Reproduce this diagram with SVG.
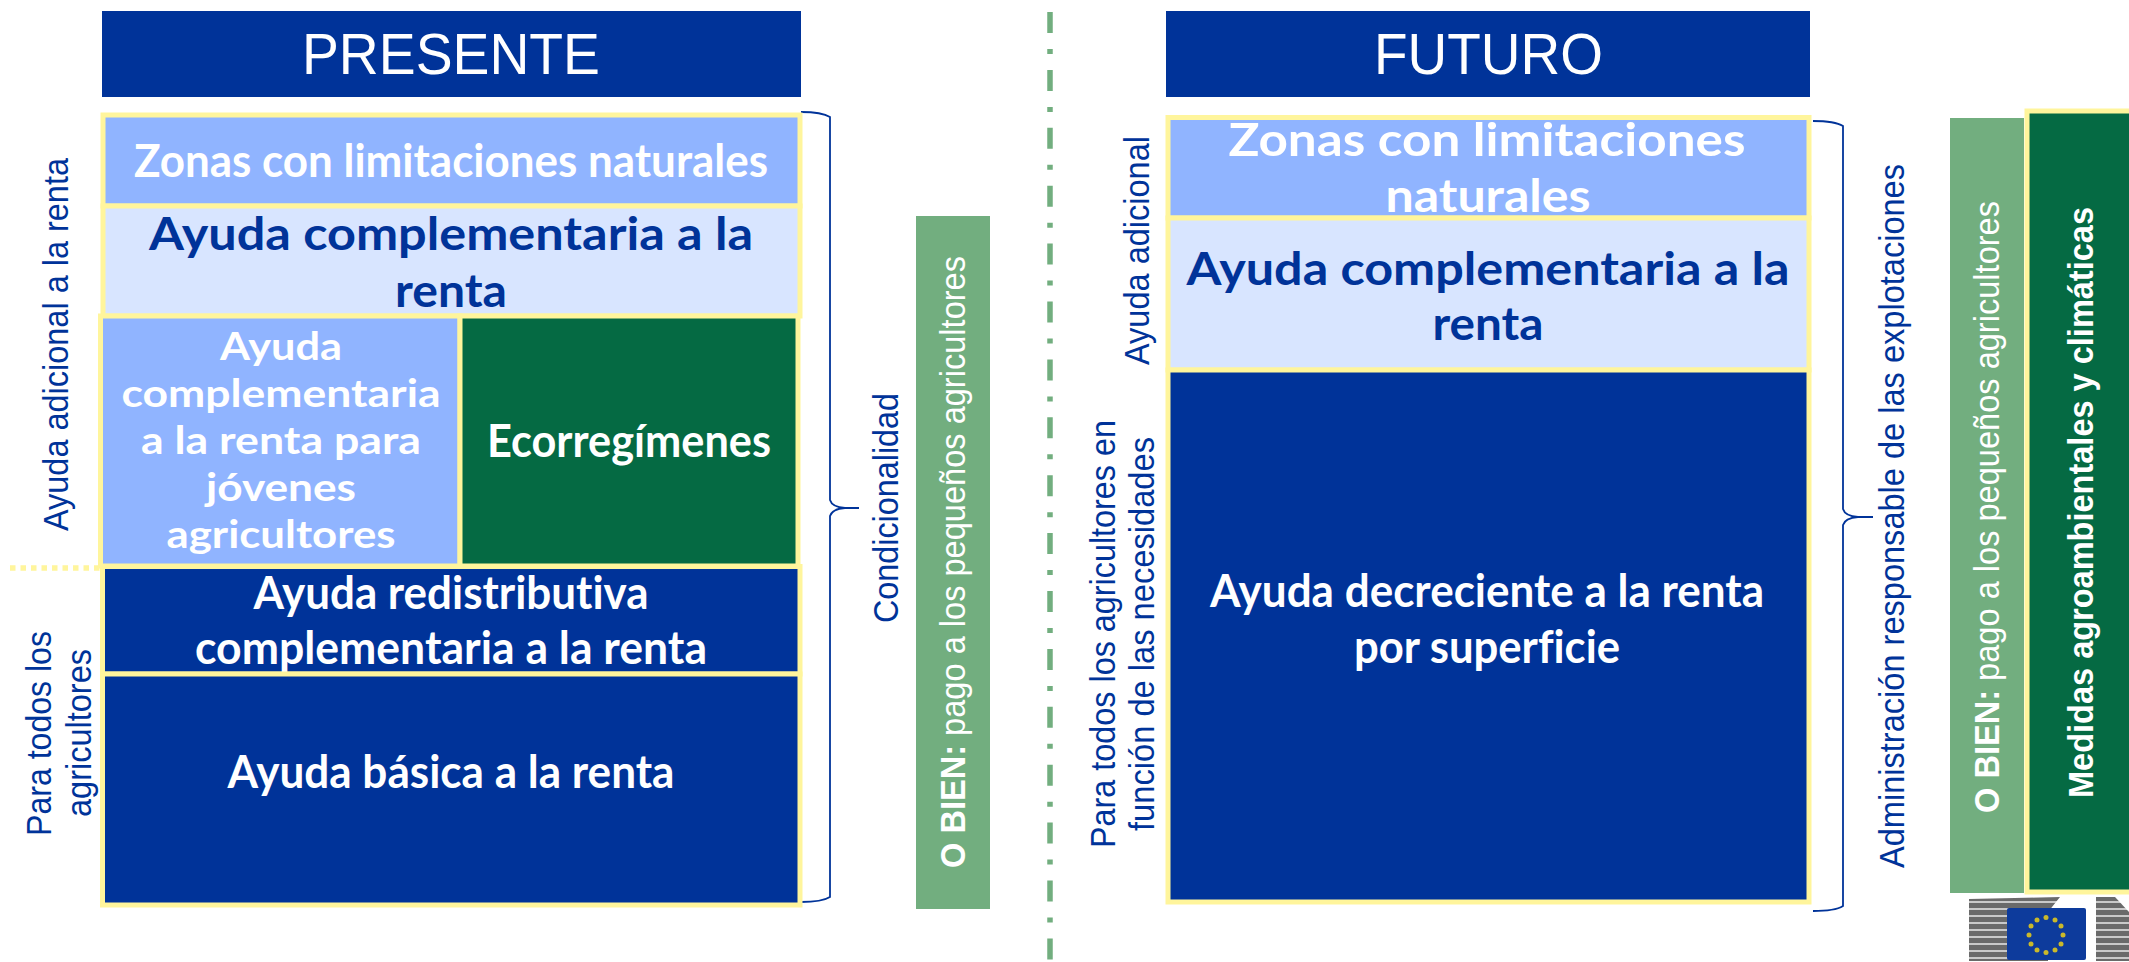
<svg xmlns="http://www.w3.org/2000/svg" width="2129" height="962" viewBox="0 0 2129 962">
<style>
.b{stroke:#fff59c;stroke-width:5}
.blue{fill:#003399}.lb{fill:#90b4ff}.pb{fill:#d8e5ff}.dg{fill:#056a43}.lg{fill:#72ae7f}
.t{font-family:Lato,"Liberation Sans",sans-serif;font-weight:700;font-size:45px;text-anchor:middle;font-variant-ligatures:none}
.s{font-size:39px}
.a{font-family:"Liberation Sans",Arial,sans-serif}
.r{font-size:35px}
.w{fill:#fff}.n{fill:#003399}
.h{font-size:58px;fill:#fff}
.c{fill:none;stroke:#003399;stroke-width:1.8}
</style>
<defs>
<pattern id="st" width="6" height="7" patternUnits="userSpaceOnUse">
<rect width="6" height="7" fill="#6b6b6b"/><rect y="5" width="6" height="2" fill="#c9c9c9"/>
</pattern>
<filter id="soft" x="-5%" y="-5%" width="110%" height="110%"><feGaussianBlur stdDeviation="0.7"/></filter>
</defs>
<g id="divider"><line x1="1050" y1="12" x2="1050" y2="960" stroke="#72ae7f" stroke-width="5.500" stroke-dasharray="21 16 5 15.900"/></g>
<g id="connectors">
<path class="c" d="M801 112Q822 112 830 117V500Q832 507 845 508H859H845Q832 509 830 516V897Q822 902 801 902"/>
<path class="c" d="M1813 121Q1835 121 1843 126V509Q1845 516 1858 517H1873H1858Q1845 518 1843 525V906Q1835 911 1813 911"/>
<line x1="10" y1="568" x2="101" y2="568" stroke="#fff59c" stroke-width="5.500" stroke-dasharray="5.500 5"/>
</g>
<g id="presente-header"><rect class="blue" x="102" y="11" width="699" height="86"/><text class="a h" x="302" y="74" textLength="298" lengthAdjust="spacingAndGlyphs">PRESENTE</text></g>
<g id="p-zonas"><rect class="lb b" x="103" y="115" width="697" height="91"/><text class="t w" x="451" y="177" textLength="634" lengthAdjust="spacingAndGlyphs">Zonas con limitaciones naturales</text></g>
<g id="p-complementaria"><rect class="pb b" x="103" y="206" width="697" height="110"/><text class="t n" x="451" y="250" textLength="604" lengthAdjust="spacingAndGlyphs">Ayuda complementaria a la</text><text class="t n" x="451" y="307" textLength="112" lengthAdjust="spacingAndGlyphs">renta</text></g>
<g id="p-jovenes"><rect class="lb b" x="100.500" y="316" width="359.500" height="250"/>
<text class="t s w" x="281" y="360" textLength="122" lengthAdjust="spacingAndGlyphs">Ayuda</text><text class="t s w" x="281" y="407" textLength="319" lengthAdjust="spacingAndGlyphs">complementaria</text><text class="t s w" x="281" y="454" textLength="280" lengthAdjust="spacingAndGlyphs">a la renta para</text><text class="t s w" x="281" y="501" textLength="150" lengthAdjust="spacingAndGlyphs">jóvenes</text><text class="t s w" x="281" y="548" textLength="229" lengthAdjust="spacingAndGlyphs">agricultores</text></g>
<g id="p-eco"><rect class="dg b" x="460" y="316" width="338" height="250"/><text class="t w" x="629" y="457" textLength="284" lengthAdjust="spacingAndGlyphs">Ecorregímenes</text></g>
<g id="p-redistributiva"><rect class="blue b" x="102.500" y="566.500" width="697.500" height="107.500"/><text class="t w" x="451" y="609" textLength="395" lengthAdjust="spacingAndGlyphs">Ayuda redistributiva</text><text class="t w" x="451" y="664" textLength="512" lengthAdjust="spacingAndGlyphs">complementaria a la renta</text></g>
<g id="p-basica"><rect class="blue b" x="102.500" y="674" width="697.500" height="231"/><text class="t w" x="451" y="788" textLength="447" lengthAdjust="spacingAndGlyphs">Ayuda básica a la renta</text></g>
<g id="p-labels">
<text class="a r n" transform="translate(68,531) rotate(-90)" textLength="373" lengthAdjust="spacingAndGlyphs">Ayuda adicional a la renta</text>
<text class="a r n" transform="translate(51,836) rotate(-90)" textLength="205" lengthAdjust="spacingAndGlyphs">Para todos los</text>
<text class="a r n" transform="translate(91,817) rotate(-90)" textLength="168" lengthAdjust="spacingAndGlyphs">agricultores</text>
<text class="a r n" transform="translate(898,623) rotate(-90)" textLength="230" lengthAdjust="spacingAndGlyphs">Condicionalidad</text>
</g>
<g id="p-obien"><rect class="lg" x="916" y="216" width="74" height="693"/><text class="a r w" transform="translate(965,868) rotate(-90)" textLength="612" lengthAdjust="spacingAndGlyphs"><tspan font-weight="700">O BIEN:</tspan> pago a los pequeños agricultores</text></g>

<g id="futuro-header"><rect class="blue" x="1166" y="11" width="644" height="86"/><text class="a h" x="1374" y="74" textLength="229" lengthAdjust="spacingAndGlyphs">FUTURO</text></g>
<g id="f-zonas"><rect class="lb b" x="1168" y="117.500" width="641" height="100.500"/><text class="t w" x="1487" y="156" textLength="517" lengthAdjust="spacingAndGlyphs">Zonas con limitaciones</text><text class="t w" x="1488" y="212" textLength="205" lengthAdjust="spacingAndGlyphs">naturales</text></g>
<g id="f-complementaria"><rect class="pb b" x="1168" y="218" width="641" height="152"/><text class="t n" x="1488" y="285" textLength="603" lengthAdjust="spacingAndGlyphs">Ayuda complementaria a la</text><text class="t n" x="1488" y="340" textLength="111" lengthAdjust="spacingAndGlyphs">renta</text></g>
<g id="f-decreciente"><rect class="blue b" x="1168" y="370" width="641" height="532"/><text class="t w" x="1487" y="607" textLength="554" lengthAdjust="spacingAndGlyphs">Ayuda decreciente a la renta</text><text class="t w" x="1487" y="663" textLength="266" lengthAdjust="spacingAndGlyphs">por superficie</text></g>
<g id="f-labels">
<text class="a r n" transform="translate(1149,365) rotate(-90)" textLength="229" lengthAdjust="spacingAndGlyphs">Ayuda adicional</text>
<text class="a r n" transform="translate(1115,848) rotate(-90)" textLength="428" lengthAdjust="spacingAndGlyphs">Para todos los agricultores en</text>
<text class="a r n" transform="translate(1154,831) rotate(-90)" textLength="394" lengthAdjust="spacingAndGlyphs">función de las necesidades</text>
<text class="a r n" transform="translate(1904,868) rotate(-90)" textLength="704" lengthAdjust="spacingAndGlyphs">Administración responsable de las explotaciones</text>
</g>
<g id="f-obien"><rect class="lg" x="1950" y="118" width="74" height="775"/><text class="a r w" transform="translate(1999,813) rotate(-90)" textLength="612" lengthAdjust="spacingAndGlyphs"><tspan font-weight="700">O BIEN:</tspan> pago a los pequeños agricultores</text></g>
<g id="f-medidas"><rect class="dg b" x="2027" y="111" width="110" height="781"/><text class="a r w" font-weight="700" transform="translate(2093,798) rotate(-90)" textLength="591" lengthAdjust="spacingAndGlyphs">Medidas agroambientales y climáticas</text></g>
<g id="eu-logo" filter="url(#soft)">
<path d="M1969 899L2060 897L2048 912V961H1969Z" fill="url(#st)"/>
<path d="M2096 897H2115L2129 912V961H2096Z" fill="url(#st)"/>
<rect x="2007" y="908" width="79" height="52" rx="2" fill="#0f3a9c"/>
<g fill="#c9b92b"><circle cx="2046" cy="917.500" r="2.500"/><circle cx="2055" cy="920" r="2.500"/><circle cx="2061" cy="926" r="2.500"/><circle cx="2063" cy="935" r="2.500"/><circle cx="2061" cy="944" r="2.500"/><circle cx="2055" cy="950" r="2.500"/><circle cx="2046" cy="952.500" r="2.500"/><circle cx="2037" cy="950" r="2.500"/><circle cx="2031" cy="944" r="2.500"/><circle cx="2029" cy="935" r="2.500"/><circle cx="2031" cy="926" r="2.500"/><circle cx="2037" cy="920" r="2.500"/></g>
</g>
</svg>
